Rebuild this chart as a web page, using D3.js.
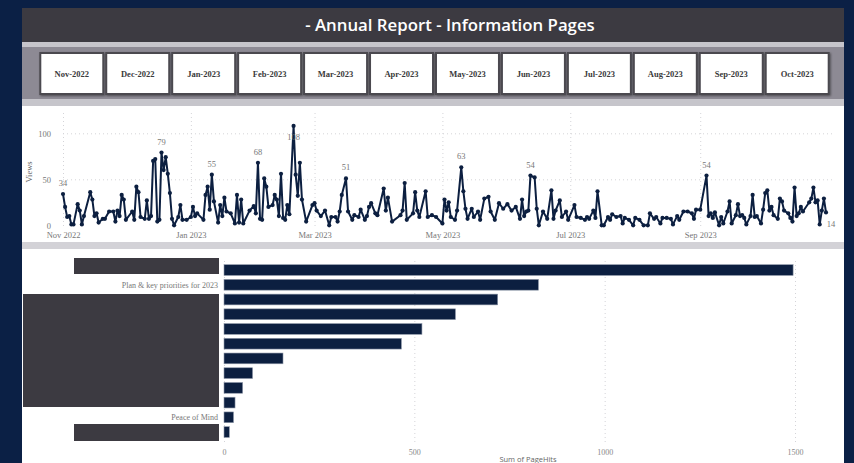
<!DOCTYPE html>
<html><head><meta charset="utf-8">
<script src="https://cdn.jsdelivr.net/npm/d3@7"></script>
<style>
body{margin:0;background:#0b2045;overflow:hidden}
svg{display:block}
</style>
</head><body>
<svg id="c" width="854" height="463"></svg>
<script>
// ---------------- data ----------------
const titleText = "- Annual Report - Information Pages";
const monthButtons = ["Nov-2022","Dec-2022","Jan-2023","Feb-2023","Mar-2023","Apr-2023","May-2023","Jun-2023","Jul-2023","Aug-2023","Sep-2023","Oct-2023"];

const startDate = "2022-11-01";
const endDate = "2023-10-31";
// day offset from startDate
const dayOffsets = [0,1,2,3,4,5,7,8,9,10,13,14,15,16,17,19,20,22,24,25,26,27,28,29,30,33,34,35,36,37,39,40,41,42,43,44,45,46,47,48,49,50,51,52,53,55,56,57,59,61,62,63,64,67,68,69,70,71,72,74,75,76,77,78,80,82,83,84,85,86,89,91,92,93,94,95,96,97,98,100,101,102,103,104,105,106,107,108,110,111,112,113,114,116,119,120,121,123,125,127,128,130,131,132,133,135,136,138,139,141,142,144,145,146,147,149,150,153,154,155,157,161,162,163,164,167,168,169,170,173,174,176,178,181,182,183,184,185,187,188,190,191,192,193,195,196,198,199,201,203,204,206,208,210,212,214,216,218,219,220,221,222,223,225,226,227,229,231,233,234,235,237,238,240,241,244,245,247,249,250,251,253,254,255,257,258,260,261,262,264,266,267,268,270,272,273,275,277,279,280,282,283,285,286,288,290,291,293,294,296,298,300,301,302,304,307,308,309,310,311,313,314,315,317,318,319,321,322,323,324,325,326,328,329,330,331,333,334,335,336,337,338,339,341,342,343,344,346,347,348,349,350,351,352,353,356,357,358,359,360,361,362,363,364];
const views = [34,20,9,10,1,1,23,16,1,10,36,28,10,13,3,7,7,15,15,4,16,10,33,28,6,15,6,42,36,9,7,27,7,10,70,72,4,6,79,60,74,56,35,7,0,9,22,6,6,9,20,10,13,6,33,42,17,55,26,3,22,10,30,15,13,2,33,3,28,2,16,21,13,68,7,6,51,42,20,22,33,28,10,56,8,6,22,12,108,55,32,68,28,4,22,24,16,10,16,0,9,9,4,15,33,51,15,6,11,9,17,6,10,20,24,13,11,40,16,30,4,11,16,46,6,13,36,16,9,37,9,11,9,2,28,16,25,9,6,16,63,37,18,7,18,9,15,6,29,31,15,6,24,18,23,16,20,7,28,10,15,16,54,52,18,0,15,7,38,7,16,27,9,15,6,22,9,8,6,9,7,16,8,37,0,0,9,6,12,9,10,2,8,6,0,8,6,0,0,13,7,9,2,8,8,7,1,10,6,15,15,13,7,17,17,54,10,13,8,14,0,9,2,15,26,2,11,23,10,11,8,1,10,33,9,10,2,17,35,38,16,20,11,7,29,26,16,13,8,4,41,10,13,20,15,25,29,41,25,27,1,16,29,14];
const labeledDays = [0,47,71,93,110,135,190,223,307,364];
const viewTicks = [0,50,100];
const monthTickDates = ["2022-11-01","2023-01-01","2023-03-01","2023-05-01","2023-07-01","2023-09-01"];

// bar chart (most page names are covered in the reference)
const pageNames = ["", "Plan & key priorities for 2023", "", "", "", "", "", "", "", "", "Peace of Mind", ""];
const pageHits = [1495, 826, 719, 608, 520, 466, 155, 75, 49, 29, 25, 14];
const hitTicks = [0, 500, 1000, 1500];
const hitsAxisTitle = "Sum of PageHits";
const viewsAxisTitle = "Views";

// ---------------- drawing ----------------
const svg = d3.select("#c");
const navy = "#0c1f40";
const dark = "#3c3a41";
const serif = "'Liberation Serif', 'DejaVu Serif', serif";
const sans = "'Open Sans', 'Noto Sans', sans-serif";

const defs = svg.append("defs");
const f = defs.append("filter").attr("id","sh").attr("x","-20%").attr("y","-20%").attr("width","140%").attr("height","140%");
f.append("feDropShadow").attr("dx",1).attr("dy",1).attr("stdDeviation",1).attr("flood-color","#000").attr("flood-opacity",0.45);

// background
svg.append("rect").attr("width",854).attr("height",463).attr("fill","#0b2045");
// white panel
svg.append("rect").attr("x",22).attr("y",8).attr("width",822).attr("height",455).attr("fill","#ffffff");

// title bar
svg.append("rect").attr("x",22).attr("y",8).attr("width",822).attr("height",34).attr("fill",dark);
svg.append("text").attr("x",450).attr("y",31).attr("text-anchor","middle")
  .attr("fill","#ffffff").attr("font-family",sans).attr("font-weight",600).attr("font-size",16.8)
  .text(titleText);

// slicer band
svg.append("rect").attr("x",22).attr("y",42).attr("width",822).attr("height",64).attr("fill","#c6c5cb");
svg.append("rect").attr("x",22).attr("y",47).attr("width",822).attr("height",52).attr("fill","#8d8a94");

const bx = d3.scaleBand().domain(monthButtons).range([37, 832]).paddingInner(0.045).paddingOuter(0.05);
const btn = svg.append("g").selectAll("g").data(monthButtons).join("g")
  .attr("transform", d => `translate(${bx(d)},53)`);
btn.append("rect").attr("width",bx.bandwidth()).attr("height",41)
  .attr("fill","#ffffff").attr("stroke","#4b4950").attr("stroke-width",2).attr("filter","url(#sh)");
btn.append("text").attr("x",bx.bandwidth()/2).attr("y",23.5).attr("text-anchor","middle")
  .attr("font-family",serif).attr("font-weight","bold").attr("font-size",8.5).attr("fill","#3a3a3a")
  .text(d => d);

// ---------------- line chart ----------------
const parse = d3.timeParse("%Y-%m-%d");
const t0 = parse(startDate);
const pts = dayOffsets.map((o,i) => ({date: d3.timeDay.offset(t0, o), off:o, v: views[i]}));

const x = d3.scaleTime().domain([t0, parse(endDate)]).range([63, 826]);
const y = d3.scaleLinear().domain([0,100]).range([225.3, 133.3]);

const lc = svg.append("g");
// horizontal grid
lc.append("g").attr("transform","translate(63,0)")
  .call(d3.axisLeft(y).tickValues(viewTicks.filter(v=>v>0)).tickSize(-770).tickFormat(""))
  .call(g => g.select(".domain").remove())
  .call(g => g.selectAll("line").attr("stroke","#d4d4d8").attr("stroke-dasharray","1,3"));
// vertical grid
lc.append("g").attr("transform","translate(0,226)")
  .call(d3.axisBottom(x).tickValues(monthTickDates.map(parse)).tickSize(-114).tickFormat(""))
  .call(g => g.select(".domain").remove())
  .call(g => g.selectAll("line").attr("stroke","#d4d4d8").attr("stroke-dasharray","1,3"));
// y labels
lc.append("g").attr("transform","translate(63,0)")
  .call(d3.axisLeft(y).tickValues(viewTicks).tickSize(0).tickPadding(12))
  .call(g => g.select(".domain").remove())
  .call(g => g.selectAll("text").attr("font-family",serif).attr("font-size",8.5).attr("fill","#777"));
// x labels
lc.append("g").attr("transform","translate(0,226)")
  .call(d3.axisBottom(x).tickValues(monthTickDates.map(parse)).tickSize(0).tickPadding(6).tickFormat(d3.timeFormat("%b %Y")))
  .call(g => g.select(".domain").remove())
  .call(g => g.selectAll("text").attr("font-family",serif).attr("font-size",8.5).attr("fill","#777"));
lc.append("text").attr("transform","translate(32,172) rotate(-90)").attr("text-anchor","middle")
  .attr("font-family",serif).attr("font-size",8.5).attr("fill","#666").text(viewsAxisTitle);

lc.append("path").datum(pts)
  .attr("d", d3.line().x(d=>x(d.date)).y(d=>y(d.v)))
  .attr("fill","none").attr("stroke",navy).attr("stroke-width",2).attr("stroke-linejoin","round");
lc.append("g").selectAll("circle").data(pts).join("circle")
  .attr("cx",d=>x(d.date)).attr("cy",d=>y(d.v)).attr("r",2.1).attr("fill",navy);

const lab = pts.filter(d => labeledDays.includes(d.off));
lc.append("g").selectAll("text").data(lab).join("text")
  .attr("x", d => x(d.date) + (d.off === 364 ? 5 : 0))
  .attr("y", d => d.off === 364 ? y(d.v) + 15 : (d.v > 100 ? y(d.v) + 14 : y(d.v) - 8))
  .attr("text-anchor","middle")
  .attr("font-family",serif).attr("font-size",8.5).attr("fill","#777")
  .text(d => d.v);

// separator
svg.append("rect").attr("x",22).attr("y",242).attr("width",822).attr("height",7).attr("fill","#d3d2d7");

// ---------------- bar chart ----------------
const xb = d3.scaleLinear().domain([0,1500]).range([224,795]);
const yb = d3.scaleBand().domain(d3.range(pageHits.length)).range([260.7,441.4]).padding(0.27);

const bc = svg.append("g");
bc.append("g").attr("transform","translate(0,442)")
  .call(d3.axisBottom(xb).tickValues(hitTicks).tickSize(-184).tickFormat(""))
  .call(g => g.select(".domain").remove())
  .call(g => g.selectAll("line").attr("stroke","#d4d4d8").attr("stroke-dasharray","1,3"));
bc.append("g").attr("transform","translate(0,442)")
  .call(d3.axisBottom(xb).tickValues(hitTicks).tickSize(0).tickPadding(7).tickFormat(d3.format("d")))
  .call(g => g.select(".domain").remove())
  .call(g => g.selectAll("text").attr("font-family",serif).attr("font-size",8).attr("fill","#888"));
bc.append("text").attr("x",528).attr("y",462).attr("text-anchor","middle")
  .attr("font-family",sans).attr("font-size",7.5).attr("fill","#666").text(hitsAxisTitle);

bc.append("g").selectAll("rect").data(pageHits).join("rect")
  .attr("x", xb(0)).attr("y", (d,i) => yb(i))
  .attr("width", d => xb(d) - xb(0)).attr("height", yb.bandwidth())
  .attr("fill", navy).attr("stroke","#8e97a8").attr("stroke-width",0.6);

bc.append("g").selectAll("text").data(pageNames).join("text")
  .attr("x", 218).attr("y", (d,i) => yb(i) + yb.bandwidth()/2 + 3)
  .attr("text-anchor","end").attr("font-family",serif).attr("font-size",8).attr("fill","#777")
  .text(d => d);

// covered labels (solid boxes, as in the reference)
const covers = [[74,258,145,16],[23,294,196,113],[74,424,145,17]];
bc.append("g").selectAll("rect").data(covers).join("rect")
  .attr("x",d=>d[0]).attr("y",d=>d[1]).attr("width",d=>d[2]).attr("height",d=>d[3])
  .attr("fill",dark);
</script>
</body></html>
